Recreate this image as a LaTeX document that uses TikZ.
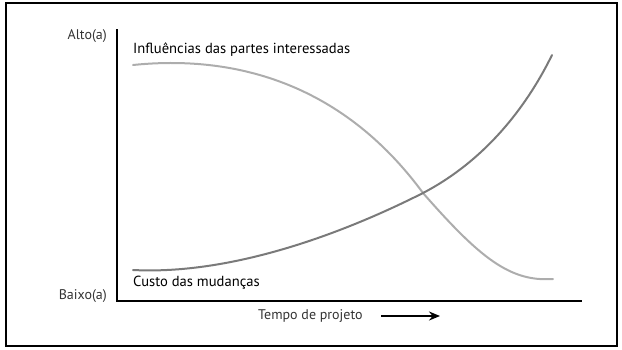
\documentclass[tikz,border=0pt]{standalone}
\usepackage{fontspec}
\setmainfont{PT Sans}
\usetikzlibrary{arrows.meta}
\begin{document}
\begin{tikzpicture}[x=1pt,y=-1pt,
  lbl/.style={inner sep=0pt,font=\fontsize{14.6}{16}\selectfont},
  axislbl/.style={inner sep=0pt,font=\fontsize{14}{16}\selectfont,text=black!80},
  curveA/.style={line width=2pt,draw=black!32},
  curveB/.style={line width=2pt,draw=black!52},
  axis/.style={line width=2.6pt,draw=black}]
\useasboundingbox (0,0) rectangle (622,349);
\draw[line width=1.3pt] (6,3) rectangle (617,346);
% axes
\coordinate (top) at (117,29);
\coordinate (org) at (117,301);
\coordinate (xend) at (582,301);
\draw[axis,line cap=butt] (top) -- (org.center) -- (xend);
% labels
\node[axislbl,anchor=east] (alto) at (107,36) {Alto(a)};
\node[axislbl,anchor=east] (baixo) at (107,296) {Baixo(a)};
\node[lbl,anchor=west] (infl) at (133,50) {Influências das partes interessadas};
\node[lbl,anchor=west] (custo) at (133,283) {Custo das mudanças};
\node[axislbl,anchor=west] (tempo) at (258,316) {Tempo de projeto};
\coordinate (arrS) at (381,316);
\coordinate (arrE) at (440,316);
\draw[line width=1.8pt,-{Stealth[length=11pt,width=9pt]}] (arrS) -- (arrE);
% curves
\coordinate (a0) at (133,65);
\coordinate (x) at (423,193);
\coordinate (a1) at (553,279);
\coordinate (b0) at (133,270);
\coordinate (b1) at (552,55);
\draw[curveA,line cap=round] (a0) .. controls (230,55) and (340,80) .. (x) .. controls (480,258) and (510,282) .. (a1);
\draw[curveB,line cap=round] (b0) .. controls (230,275) and (340,235) .. (x) .. controls (490,158) and (530,100) .. (b1);
\end{tikzpicture}
\end{document}
